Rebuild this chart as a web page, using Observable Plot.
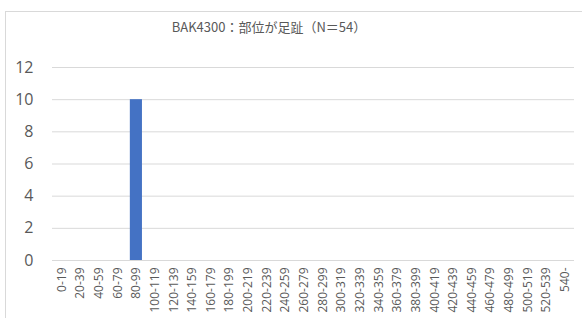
<!DOCTYPE html>
<html><head><meta charset="utf-8">
<script src="https://cdn.jsdelivr.net/npm/d3@7"></script>
<script src="https://cdn.jsdelivr.net/npm/@observablehq/plot@0.6"></script>
<style>
body{margin:0;background:#fff;width:582px;height:318px;overflow:hidden;position:relative;}
#frame{position:absolute;left:5px;top:11px;width:640px;height:400px;border:1px solid #d9d9d9;box-sizing:border-box;}
#title{position:absolute;left:0;width:538px;top:18px;line-height:18px;text-align:center;font-family:"Noto Sans CJK JP";font-size:13px;color:#595959;white-space:nowrap;}
#chart{position:absolute;left:0;top:0;}
</style></head><body>
<div id="frame"></div>
<div id="title">BAK4300：部位が足趾（N＝54）</div>
<div id="chart"></div>
<script>
const categories = ["0-19","20-39","40-59","60-79","80-99","100-119","120-139","140-159","160-179","180-199","200-219","220-239","240-259","260-279","280-299","300-319","320-339","340-359","360-379","380-399","400-419","420-439","440-459","460-479","480-499","500-519","520-539","540-"];
const counts = [0,0,0,0,10,0,0,0,0,0,0,0,0,0,0,0,0,0,0,0,0,0,0,0,0,0,0,0];
const yTicks = [0,2,4,6,8,10,12];

const data = categories.map((c, i) => ({category: c, count: counts[i]}));

const chart = Plot.plot({
  width: 582,
  height: 318,
  marginTop: 67,
  marginBottom: 58,
  marginLeft: 52,
  marginRight: 8,
  style: {background: "transparent", color: "#595959", overflow: "visible"},
  x: {domain: categories, paddingInner: 0.35, paddingOuter: 0.175, round: false, label: null},
  y: {domain: [0, 12], label: null},
  marks: [
    Plot.gridY(yTicks, {stroke: "#d9d9d9", strokeOpacity: 1, strokeWidth: 1}),
    Plot.axisY(yTicks, {tickSize: 0, tickPadding: 19, fontSize: 16, fontFamily: "Open Sans", fill: "#595959", label: null}),
    Plot.axisX({tickSize: 0, tickPadding: 7, tickRotate: -90, fontSize: 12, fontFamily: "Open Sans", fill: "#595959", label: null}),
    Plot.barY(data, {x: "category", y: "count", fill: "#4472C4"})
  ]
});
document.getElementById("chart").appendChild(chart);
</script>
</body></html>
